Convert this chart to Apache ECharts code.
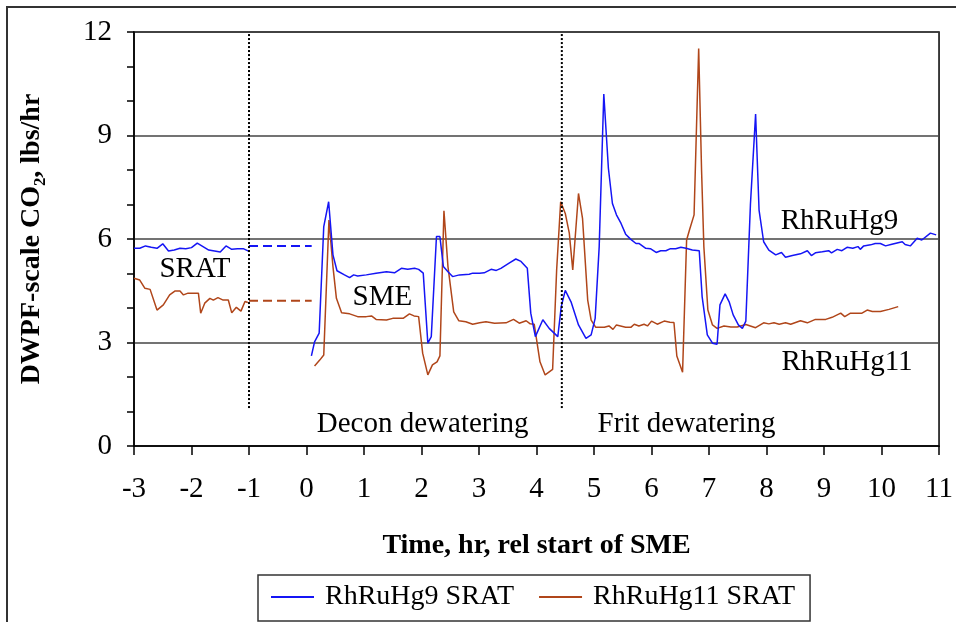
<!DOCTYPE html>
<html>
<head>
<meta charset="utf-8">
<script src="https://cdn.jsdelivr.net/npm/echarts@6/dist/echarts.min.js"></script>
<style>html,body{margin:0;padding:0;background:#fff}#c{width:956px;height:622px}</style>
</head>
<body>
<div id="c"></div>
<script>
// ---- Data ----
const xTicks = [-3,-2,-1,0,1,2,3,4,5,6,7,8,9,10,11];
const yTicks = [0,3,6,9,12];

const rh9SratTime = [-3.0,-2.9,-2.8,-2.7,-2.6,-2.5,-2.4,-2.3,-2.2,-2.1,-2.0,-1.9,-1.8,-1.7,-1.6,-1.5,-1.4,-1.3,-1.2,-1.1,-1.0];
const rh9SratVal  = [5.73,5.73,5.80,5.76,5.73,5.86,5.65,5.68,5.73,5.72,5.75,5.88,5.78,5.68,5.65,5.62,5.80,5.70,5.72,5.72,5.64];

const rh9SmeTime = [0.085,0.14,0.22,0.30,0.385,0.46,0.53,0.66,0.75,0.82,0.89,1.04,1.21,1.39,1.53,1.65,1.76,1.88,1.95,2.03,2.11,2.17,2.26,2.32,2.38,2.46,2.54,2.66,2.83,2.89,3.01,3.09,3.21,3.30,3.38,3.53,3.64,3.73,3.84,3.90,3.98,4.11,4.22,4.37,4.43,4.50,4.60,4.73,4.86,4.95,5.02,5.09,5.17,5.25,5.32,5.39,5.47,5.55,5.64,5.73,5.78,5.90,5.98,6.08,6.16,6.25,6.33,6.42,6.51,6.60,6.71,6.83,6.88,6.97,7.06,7.14,7.19,7.28,7.35,7.42,7.51,7.58,7.64,7.72,7.81,7.87,7.95,8.04,8.16,8.26,8.33,8.45,8.59,8.71,8.78,8.85,8.97,9.08,9.13,9.23,9.31,9.40,9.50,9.59,9.63,9.69,9.81,9.89,9.98,10.07,10.18,10.36,10.41,10.50,10.62,10.70,10.85,10.95];
const rh9SmeVal  = [2.61,3.02,3.27,6.36,7.08,5.54,5.08,4.96,4.88,4.96,4.93,4.96,5.01,5.05,5.02,5.15,5.12,5.15,5.12,5.01,2.98,3.17,6.07,6.07,5.20,5.05,4.91,4.96,4.98,5.01,5.01,5.02,5.12,5.09,5.15,5.31,5.42,5.35,5.15,3.85,3.17,3.66,3.41,3.17,4.04,4.51,4.18,3.51,3.12,3.22,3.70,5.78,10.20,8.05,7.03,6.70,6.45,6.14,5.99,5.87,5.87,5.73,5.72,5.61,5.66,5.66,5.72,5.72,5.76,5.73,5.68,5.66,4.33,3.22,2.98,2.95,4.09,4.41,4.18,3.80,3.51,3.41,3.62,7.00,9.62,6.84,5.92,5.68,5.54,5.61,5.47,5.52,5.57,5.66,5.52,5.60,5.63,5.66,5.60,5.70,5.66,5.76,5.73,5.78,5.70,5.80,5.83,5.87,5.87,5.80,5.85,5.92,5.84,5.80,6.02,5.97,6.17,6.12];

const rh11SratTime = [-3.00,-2.90,-2.81,-2.72,-2.60,-2.49,-2.38,-2.29,-2.20,-2.14,-2.06,-1.88,-1.84,-1.77,-1.68,-1.62,-1.54,-1.45,-1.36,-1.30,-1.22,-1.14,-1.07,-1.02];
const rh11SratVal  = [4.86,4.81,4.57,4.54,3.94,4.09,4.38,4.49,4.49,4.38,4.43,4.43,3.85,4.14,4.28,4.23,4.30,4.23,4.23,3.86,4.02,3.91,4.19,4.16];

const rh11SmeTime = [0.14,0.23,0.30,0.39,0.46,0.52,0.61,0.75,0.89,1.04,1.13,1.21,1.39,1.50,1.68,1.79,1.87,1.95,2.02,2.11,2.19,2.27,2.32,2.39,2.46,2.56,2.65,2.77,2.89,3.01,3.12,3.27,3.47,3.60,3.70,3.82,3.89,3.96,4.06,4.15,4.28,4.35,4.42,4.50,4.57,4.63,4.73,4.80,4.89,4.95,5.03,5.18,5.26,5.33,5.39,5.55,5.64,5.70,5.78,5.87,5.93,6.00,6.10,6.22,6.32,6.39,6.44,6.54,6.61,6.66,6.74,6.82,6.87,6.91,6.98,7.06,7.14,7.26,7.38,7.49,7.64,7.81,7.95,8.04,8.13,8.22,8.33,8.42,8.59,8.71,8.85,9.03,9.14,9.29,9.36,9.46,9.66,9.75,9.84,9.98,10.13,10.29];
const rh11SmeVal  = [2.32,2.49,2.64,6.55,5.20,4.28,3.86,3.83,3.75,3.75,3.77,3.67,3.65,3.70,3.70,3.83,3.77,3.75,2.69,2.06,2.35,2.44,2.61,6.82,5.20,3.89,3.63,3.60,3.53,3.57,3.60,3.56,3.57,3.67,3.56,3.63,3.54,3.53,2.44,2.06,2.22,5.10,7.08,6.74,6.17,5.10,7.32,6.60,4.23,3.65,3.44,3.44,3.48,3.38,3.51,3.44,3.44,3.53,3.48,3.53,3.48,3.62,3.53,3.62,3.59,3.58,2.61,2.14,5.97,6.26,6.70,11.52,8.00,5.78,3.94,3.51,3.41,3.48,3.45,3.45,3.52,3.43,3.57,3.54,3.57,3.53,3.57,3.53,3.63,3.57,3.67,3.67,3.73,3.85,3.75,3.85,3.85,3.94,3.90,3.90,3.96,4.04];

// dashed bridges between SRAT end and SME start
const bridgeTime = [-1.0, 0.09];
const rh9BridgeVal = [5.80, 5.80];
const rh11BridgeVal = [4.21, 4.21];

// dotted phase dividers
const dividerTimes = [-1.0, 4.44];
const dividerRange = [1.1, 12];

// annotations
const annoText = ['SRAT','SME','Decon dewatering','Frit dewatering','RhRuHg9','RhRuHg11'];
const annoTime = [-1.94, 1.32, 2.02, 6.61, 9.27, 9.40];
const annoVal  = [5.13, 4.32, 0.64, 0.64, 6.52, 2.43];

// ---- Build ----
const BLUE = '#1515F5';
const BROWN = '#B0461A';
const FONT = '"Liberation Serif","Times New Roman",serif';

function pairs(t, v){ return t.map((x,i)=>[x, v[i]]); }
const rh9Data = pairs(rh9SratTime, rh9SratVal).concat([[-0.5,'-']], pairs(rh9SmeTime, rh9SmeVal));
const rh11Data = pairs(rh11SratTime, rh11SratVal).concat([[-0.5,'-']], pairs(rh11SmeTime, rh11SmeVal));

const series = [
  {name:'RhRuHg9 SRAT', type:'line', data:rh9Data, symbol:'none', connectNulls:false,
   lineStyle:{color:BLUE, width:1.5}, itemStyle:{color:BLUE}, z:3},
  {name:'RhRuHg11 SRAT', type:'line', data:rh11Data, symbol:'none', connectNulls:false,
   lineStyle:{color:BROWN, width:1.5}, itemStyle:{color:BROWN}, z:2},
  {name:'b9', type:'line', data:pairs(bridgeTime, rh9BridgeVal), symbol:'none',
   lineStyle:{color:BLUE, width:2, type:[9,5]}, silent:true},
  {name:'b11', type:'line', data:pairs(bridgeTime, rh11BridgeVal), symbol:'none',
   lineStyle:{color:BROWN, width:2, type:[9,5]}, silent:true}
];
dividerTimes.forEach((t,i)=>{
  series.push({name:'div'+i, type:'line', data:dividerRange.map(v=>[t,v]), symbol:'none',
    lineStyle:{color:'#000', width:2, type:[2,2]}, silent:true});
});
series.push({
  name:'anno', type:'scatter', symbolSize:0, silent:true,
  itemStyle:{opacity:1},
  data: annoText.map((s,i)=>({name:s, value:[annoTime[i], annoVal[i]]})),
  label:{show:true, position:'inside', formatter:p=>p.name, color:'#000', opacity:1,
    textBorderWidth:0, fontFamily:FONT, fontSize:29}
});

const chart = echarts.init(document.getElementById('c'), null, {renderer:'canvas'});
chart.setOption({
  animation:false,
  backgroundColor:'#fff',
  textStyle:{fontFamily:FONT},
  grid:{left:134, right:16, top:32, bottom:176, show:true, borderColor:'#000', borderWidth:1.5, backgroundColor:'transparent'},
  xAxis:{
    type:'value', min:xTicks[0], max:xTicks[xTicks.length-1], interval:1,
    name:'Time, hr, rel start of SME', nameLocation:'middle', nameGap:86,
    nameTextStyle:{fontFamily:FONT, fontSize:28, fontWeight:'bold', color:'#000'},
    axisLine:{show:true, onZero:false, lineStyle:{color:'#000', width:1.5}},
    axisTick:{show:true, length:9, lineStyle:{color:'#000', width:1.5}},
    axisLabel:{fontFamily:FONT, fontSize:29, color:'#000', margin:29},
    splitLine:{show:false}
  },
  yAxis:{
    type:'value', min:yTicks[0], max:yTicks[yTicks.length-1], interval:3,
    name:'DWPF-scale CO\u2082, lbs/hr', nameLocation:'middle', nameGap:88,
    nameTextStyle:{fontFamily:FONT, fontSize:28, fontWeight:'bold', color:'#000'},
    axisLine:{show:true, onZero:false, lineStyle:{color:'#000', width:1.5}},
    axisTick:{show:true, length:7, lineStyle:{color:'#000', width:1.5}},
    minorTick:{show:true, splitNumber:3, length:7, lineStyle:{color:'#000', width:1.5}},
    axisLabel:{fontFamily:FONT, fontSize:29, color:'#000', margin:22},
    splitLine:{show:true, lineStyle:{color:'#444', width:1.5}}
  },
  legend:{
    data:[{name:'RhRuHg9 SRAT', icon:'rect'},{name:'RhRuHg11 SRAT', icon:'rect'}],
    left:258, top:575, orient:'horizontal',
    itemWidth:43, itemHeight:2, itemGap:25,
    padding:[8,15,10,13],
    borderColor:'#333', borderWidth:1.5,
    textStyle:{fontFamily:FONT, fontSize:28, color:'#000', padding:[0,0,0,6]}
  },
  graphic:[{type:'rect', shape:{x:7, y:7, width:1000, height:700},
    style:{fill:'none', stroke:'#333', lineWidth:2}, silent:true, z:-1}],
  series: series
});
</script>
</body>
</html>
